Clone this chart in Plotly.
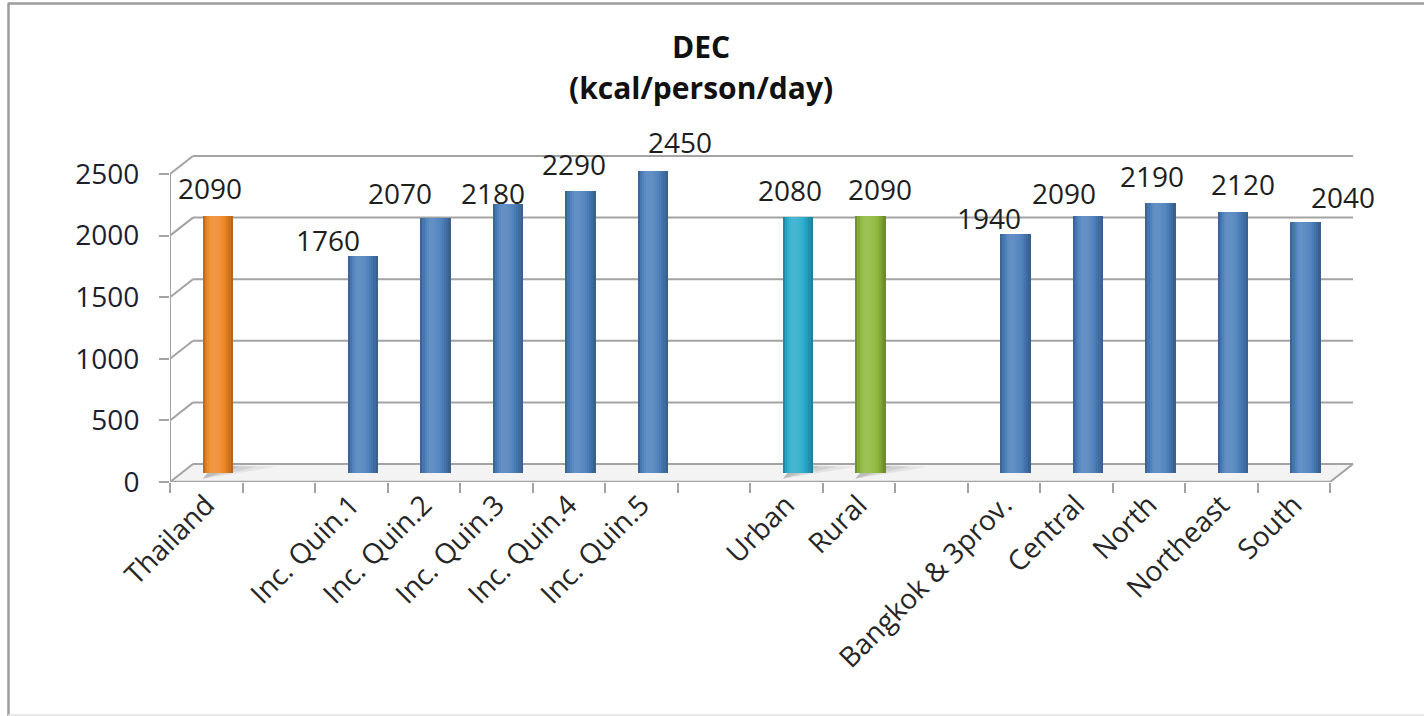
import plotly.graph_objects as go

# ---------------- data ----------------
CATEGORIES = ["Thailand", " ", "Inc. Quin.1", "Inc. Quin.2", "Inc. Quin.3", "Inc. Quin.4",
              "Inc. Quin.5", "  ", "Urban", "Rural", "   ", "Bangkok & 3prov.", "Central",
              "North", "Northeast", "South"]
VALUES = [2090, None, 1760, 2070, 2180, 2290, 2450, None, 2080, 2090, None,
          1940, 2090, 2190, 2120, 2040]
Y_TICKS = [0, 500, 1000, 1500, 2000, 2500]
TITLE_LINES = ["DEC", "(kcal/person/day)"]

# ---------------- styles ----------------
BLUE, ORANGE, CYAN, GREEN = "#4A7EBB", "#EE8624", "#27AACB", "#8CB83A"
BAR_COLORS = [ORANGE, None, BLUE, BLUE, BLUE, BLUE, BLUE, None, CYAN, GREEN, None,
              BLUE, BLUE, BLUE, BLUE, BLUE]
# label nudges (pixels) relative to the top of each bar (Excel 3-D label placement)
LABEL_DX = [-8, 0, -35, -35, -15, -6, 27, 0, -8, 10, 0, -26, -24, -8, 10, 38]
LABEL_DY = [28, 0, 16, 25, 11, 27, 29, 0, 27, 27, 0, 16, 23, 27, 28, 25]

W, H = 1424, 716
ML, MR, MT, MB = 170, 70, 148, 234
PX_PER_CAT = 72.5
PX_PER_VAL = 0.1232
plot_w = W - ML - MR
plot_h = H - MT - MB
X_RANGE = [-0.5, -0.5 + plot_w / PX_PER_CAT]
Y_RANGE = [0, plot_h / PX_PER_VAL]

# 3-D depth offsets (back wall and bar plane) in data units
BACK_DX = 23 / PX_PER_CAT
BACK_DY = 18 / PX_PER_VAL
BAR_DX = BACK_DX / 2
BAR_DY = BACK_DY / 2
BAR_W = 30 / PX_PER_CAT
N_STRIPS = 14
n_cat = len(CATEGORIES)

FONT = "Open Sans"
GRID_COLOR = "#A3A3A3"


def shade(hex_color, f):
    r, g, b = (int(hex_color[i:i + 2], 16) for i in (1, 3, 5))
    if f >= 1:
        k = f - 1
        r, g, b = (c + (255 - c) * k for c in (r, g, b))
    else:
        r, g, b = (c * f for c in (r, g, b))
    return "#%02x%02x%02x" % tuple(int(max(0, min(255, round(c)))) for c in (r, g, b))


def profile(t):
    peak = 0.36
    if t <= peak:
        d = (peak - t) / peak
    else:
        d = (t - peak) / (1 - peak)
    return 1.14 - 0.42 * d ** 2


fig = go.Figure()

# cylinder-like bars built from narrow vertical strips
for j in range(N_STRIPS):
    t = (j + 0.5) / N_STRIPS
    f = profile(t)
    cols = [shade(c, f) if c else "#000000" for c in BAR_COLORS]
    fig.add_trace(go.Bar(
        x=CATEGORIES, y=VALUES, base=BAR_DY,
        width=BAR_W / N_STRIPS + 0.004,
        offset=BAR_DX - BAR_W / 2 + j * BAR_W / N_STRIPS,
        marker=dict(color=cols, line=dict(width=0)),
        showlegend=False, hoverinfo="skip",
    ))

shapes = []
x_left, x_right = -0.5, n_cat - 0.5

# floor
shapes.append(dict(type="path", xref="x", yref="y", layer="below",
                   path=f"M {x_left},0 L {x_right},0 L {x_right + BACK_DX},{BACK_DY} "
                        f"L {x_left + BACK_DX},{BACK_DY} Z",
                   fillcolor="#F3F3F3", line=dict(width=0)))

# floor shadows for the coloured bars
for i, c in enumerate(BAR_COLORS):
    if c in (ORANGE, CYAN, GREEN):
        xl = i + BAR_DX - BAR_W / 2
        for k, (ext, op) in enumerate([(1.0, 0.10), (0.75, 0.13), (0.5, 0.17)]):
            shapes.append(dict(type="path", xref="x", yref="y", layer="below",
                               path=f"M {xl},{BAR_DY * 0.35} L {xl + ext},{BACK_DY * 0.85} "
                                    f"L {xl + BACK_DX * 0.5},{BACK_DY * 0.95} Z",
                               fillcolor=f"rgba(90,90,90,{op})", line=dict(width=0)))

# back wall gridlines + left wall diagonals
for v in Y_TICKS:
    shapes.append(dict(type="line", xref="x", yref="y", layer="below",
                       x0=x_left + BACK_DX, x1=x_right + BACK_DX, y0=v + BACK_DY, y1=v + BACK_DY,
                       line=dict(color=GRID_COLOR, width=2)))
    shapes.append(dict(type="line", xref="x", yref="y", layer="below",
                       x0=x_left, x1=x_left + BACK_DX, y0=v, y1=v + BACK_DY,
                       line=dict(color=GRID_COLOR, width=2)))

# front floor edge, right floor edge, front vertical axis
shapes.append(dict(type="line", xref="x", yref="y", layer="below",
                   x0=x_left, x1=x_right, y0=0, y1=0,
                   line=dict(color=GRID_COLOR, width=2.5)))
shapes.append(dict(type="line", xref="x", yref="y", layer="below",
                   x0=x_right, x1=x_right + BACK_DX, y0=0, y1=BACK_DY,
                   line=dict(color=GRID_COLOR, width=2)))
shapes.append(dict(type="line", xref="x", yref="y", layer="below",
                   x0=x_left, x1=x_left, y0=0, y1=Y_TICKS[-1],
                   line=dict(color=GRID_COLOR, width=2)))


def px_x(p):
    return (p - ML) / plot_w


def px_y(p):
    return (H - MB - p) / plot_h


# chart border (top, left, bottom)
shapes.append(dict(type="line", xref="paper", yref="paper", x0=px_x(8), x1=px_x(W), y0=px_y(3.5), y1=px_y(3.5),
                   line=dict(color="#9C9C9C", width=2.5)))
shapes.append(dict(type="line", xref="paper", yref="paper", x0=px_x(8.5), x1=px_x(8.5), y0=px_y(3), y1=px_y(H),
                   line=dict(color="#9C9C9C", width=2.5)))
shapes.append(dict(type="line", xref="paper", yref="paper", x0=px_x(8), x1=px_x(W), y0=px_y(715), y1=px_y(715),
                   line=dict(color="#E2E2E2", width=1.5)))

annotations = []
# value labels
for i, v in enumerate(VALUES):
    if v is None:
        continue
    annotations.append(dict(x=i + BAR_DX, y=v + BAR_DY, xref="x", yref="y",
                            text=f"{v}", showarrow=False,
                            xanchor="center", yanchor="middle",
                            xshift=LABEL_DX[i], yshift=LABEL_DY[i],
                            font=dict(family=FONT, size=28, color="#1E1E1E")))
# title
for line, py in zip(TITLE_LINES, [47, 88]):
    annotations.append(dict(x=px_x(701), y=px_y(py), xref="paper", yref="paper",
                            text=f"<b>{line}</b>", showarrow=False,
                            xanchor="center", yanchor="middle",
                            font=dict(family=FONT, size=30, color="#111111")))

fig.update_layout(
    width=W, height=H,
    margin=dict(l=ML, r=MR, t=MT, b=MB, autoexpand=False),
    paper_bgcolor="white", plot_bgcolor="white",
    barmode="overlay", bargap=0,
    showlegend=False,
    shapes=shapes, annotations=annotations,
    xaxis=dict(type="category", categoryorder="array", categoryarray=CATEGORIES,
               range=X_RANGE, tickson="boundaries", ticks="outside", ticklen=10,
               tickwidth=2, tickcolor=GRID_COLOR, showgrid=False, zeroline=False,
               showline=False, tickangle=-45, automargin=False,
               tickfont=dict(family=FONT, size=28, color="#262626")),
    yaxis=dict(range=Y_RANGE, tickvals=Y_TICKS, ticks="outside", ticklen=10,
               tickwidth=2, tickcolor=GRID_COLOR, showgrid=False, zeroline=False,
               showline=False, automargin=False, ticklabelstandoff=14,
               tickfont=dict(family=FONT, size=28, color="#1E1E2E")),
)

fig.write_html("out.html",
               config={"displayModeBar": False},
               post_script="document.body.style.margin='0';document.body.style.padding='0';"
                           "document.body.style.overflow='hidden';")
